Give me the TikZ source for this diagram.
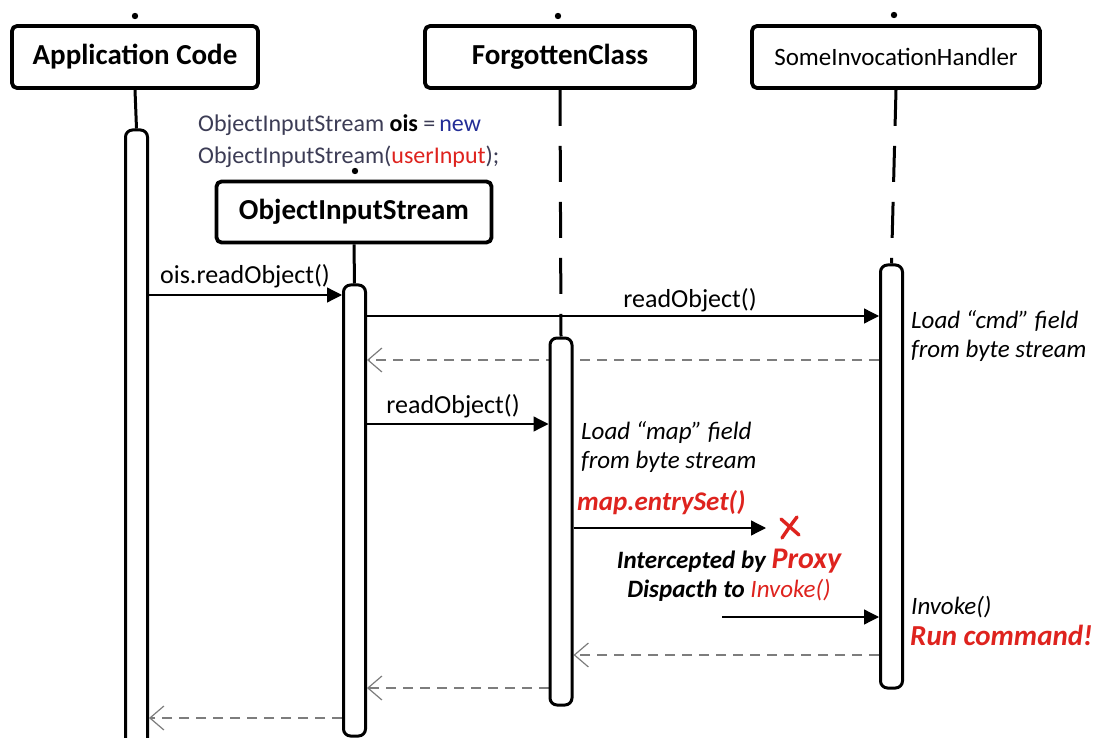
\documentclass[tikz,border=0pt]{standalone}
\usepackage{fontspec}
\setmainfont{Carlito}
\usetikzlibrary{arrows.meta,backgrounds}

\definecolor{codegray}{RGB}{60,60,85}
\definecolor{codeblue}{RGB}{35,45,150}
\definecolor{hotred}{RGB}{222,35,30}
\definecolor{retgray}{RGB}{125,125,125}

\begin{document}
\begin{tikzpicture}[x=1pt, y=-1pt, line cap=round, line join=round,
  objbox/.style={draw, line width=3.8pt, rounded corners=5pt, fill=white, minimum height=62pt, inner sep=0pt},
  actbar/.style={draw, line width=3pt, rounded corners=7pt, fill=white, minimum width=22pt, inner sep=0pt},
  msg/.style={line width=1.3pt, -{Triangle[length=15pt,width=15pt]}},
  ret/.style={line width=1.8pt, retgray, dash pattern=on 10pt off 7pt, -{Straight Barb[length=14pt,width=24pt,line width=1.2pt]}},
  life/.style={line width=3pt},
  lifedash/.style={line width=3pt, dash pattern=on 36pt off 20pt},
  ttl/.style={font=\fontsize{29}{34}\selectfont\bfseries},
  lbl/.style={font=\fontsize{26}{30}\selectfont, inner sep=0pt},
  note/.style={font=\fontsize{25}{29}\selectfont\itshape, inner sep=0pt, align=left}]

  %% ════ 对象框 ════
  \node[objbox, ttl, minimum width=246pt] (appBox) at (135,57) {Application Code};
  \node[objbox, ttl, minimum width=270pt] (fcBox) at (560,57) {ForgottenClass};
  \node[objbox, font=\fontsize{25}{30}\selectfont, minimum width=288pt] (sihBox) at (896,57) {SomeInvocationHandler};
  \node[objbox, ttl, minimum width=275pt, minimum height=61pt] (oisBox) at (354,212) {ObjectInputStream};

  %% ════ 顶上的小点 ════
  \fill (135,16) circle (3.2);
  \fill (558,16) circle (3.2);
  \fill (894,15) circle (3.2);
  \fill (355,171) circle (3.2);

  %% ════ 激活条 ════
  \node[actbar, minimum height=620pt] (appAct) at (136.5,440) {};
  \node[actbar, minimum height=451pt] (oisAct) at (354.5,510.5) {};
  \node[actbar, minimum height=367pt] (fcAct) at (561,521.5) {};
  \node[actbar, minimum height=423pt] (sihAct) at (891.5,476.5) {};

  \coordinate (xMark) at (766,528);
  \coordinate (proxyOut) at (722,617);

  %% ════ 生命线 + 消息（压在激活条下面）════
  \begin{scope}[on background layer]
    \draw[life] (appBox.south) -- (appAct.north);
    \draw[life] (oisBox.south) -- (oisAct.north);
    \draw[lifedash] (fcBox.south) -- (fcAct.north);
    \draw[lifedash] (sihBox.south) -- (sihAct.north);

    \draw[msg] (appAct.east |- 0,295) -- (oisAct.west |- 0,295);
    \draw[msg] (oisAct.east |- 0,316) -- (sihAct.west |- 0,316);
    \draw[ret] (sihAct.west |- 0,360) -- (oisAct.east |- 0,360);
    \draw[msg] (oisAct.east |- 0,424) -- (fcAct.west |- 0,424);
    \draw[msg] (fcAct.east |- 0,528) -- (xMark);
    \draw[msg] (proxyOut) -- (sihAct.west |- 0,617);
    \draw[ret] (sihAct.west |- 0,655) -- (fcAct.east |- 0,655);
    \draw[ret] (fcAct.west |- 0,688) -- (oisAct.east |- 0,688);
    \draw[ret] (oisAct.west |- 0,718) -- (appAct.east |- 0,718);
  \end{scope}

  %% 红叉
  \draw[hotred, line width=3.4pt] (781,519) -- (799,535);
  \draw[hotred, line width=3.4pt] (797,517) .. controls (790,526) and (786,532) .. (782,538);

  %% ════ 文字 ════
  \node[lbl, anchor=west, font=\fontsize{24}{28}\selectfont] (codeA) at (198,125)
    {\textcolor{codegray}{ObjectInputStream} \textbf{ois} \textcolor{codegray}{=}\,\textcolor{codeblue}{new}};
  \node[lbl, anchor=west, font=\fontsize{24}{28}\selectfont] (codeB) at (198,157)
    {\textcolor{codegray}{ObjectInputStream(}\textcolor{hotred}{userInput}\textcolor{codegray}{);}};

  \node[lbl] (callOis) at (245,276) {ois.readObject()};
  \node[lbl] (callSih) at (690,300) {readObject()};
  \node[lbl] (callFc) at (453,406) {readObject()};

  \node[note, anchor=west] (loadCmd) at (911,336) {Load “cmd” field\\from byte stream};
  \node[note, anchor=west] (loadMap) at (581,447.5) {Load “map” field\\from byte stream};
  \node[note, anchor=west, font=\fontsize{27}{30}\selectfont\bfseries\itshape, text=hotred] (entrySet) at (577,503) {map.entrySet()};
  \node[note, align=center] (proxyTxt) at (729,575)
    {\textbf{Intercepted by} {\fontsize{30}{30}\selectfont\bfseries\color{hotred}Proxy}\\
     \textbf{Dispacth to} \textcolor{hotred}{Invoke()}};
  \node[note, anchor=west] (invokeTxt) at (911,607) {Invoke()};
  \node[note, anchor=west, font=\fontsize{29}{32}\selectfont\bfseries\itshape, text=hotred] (runCmd) at (910,635) {Run command!};

  % 钉死画布
  \pgfresetboundingbox
  \path[use as bounding box] (0,0) rectangle (1101,738);
\end{tikzpicture}
\end{document}
